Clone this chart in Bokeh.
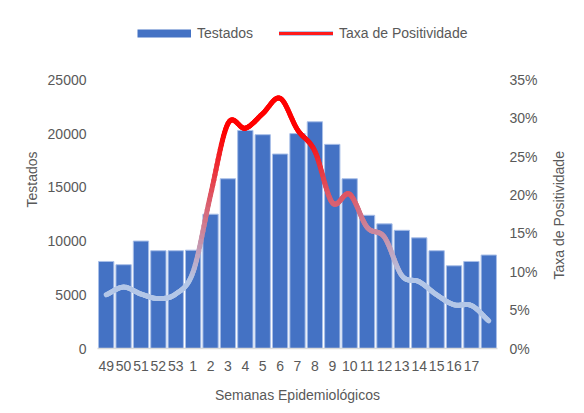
import numpy as np
from bokeh.plotting import figure
from bokeh.layouts import row
from bokeh.models import (Range1d, LinearAxis, FixedTicker, NumeralTickFormatter,
                          Legend, LegendItem, ColumnDataSource, Title)
from bokeh.embed import file_html
from bokeh.resources import INLINE

# ---- data ----
semanas = ["49", "50", "51", "52", "53", "1", "2", "3", "4", "5", "6", "7", "8",
           "9", "10", "11", "12", "13", "14", "15", "16", "17", ""]
testados = [8100, 7800, 10000, 9100, 9100, 9150, 12500, 15800, 20300, 19900, 18100,
            20000, 21100, 19000, 15800, 12400, 11600, 11000, 10300, 9100, 7700, 8100, 8700]
positividade = [0.070, 0.080, 0.071, 0.065, 0.071, 0.100, 0.200, 0.293, 0.287, 0.306,
                0.326, 0.285, 0.257, 0.190, 0.201, 0.158, 0.145, 0.095, 0.087, 0.070,
                0.057, 0.056, 0.036]
left_ticks = [0, 5000, 10000, 15000, 20000, 25000]
right_ticks = [0, 0.05, 0.10, 0.15, 0.20, 0.25, 0.30, 0.35]

FONT = "Liberation Sans"
GREY = "#595959"
BLUE = "#4472C4"

# layout (pixels)
W1, W2, H = 540, 36, 405
B_LEFT, B_RIGHT, B_TOP, B_BOTTOM = 97, 43, 10, 54
frame_h = H - B_TOP - B_BOTTOM
axis_h = 271  # pixel height from 0 to the top tick
k = frame_h / axis_h

n = len(semanas)
xs = list(range(n))

p = figure(width=W1, height=H, output_backend="svg", toolbar_location=None,
           x_range=Range1d(-0.5, n - 0.5), y_range=Range1d(0, left_ticks[-1] * k),
           min_border_left=B_LEFT, min_border_right=B_RIGHT,
           min_border_top=B_TOP, min_border_bottom=B_BOTTOM)
p.outline_line_color = None
p.xgrid.grid_line_color = None
p.ygrid.grid_line_color = None
p.background_fill_color = "white"
p.border_fill_color = "white"

p.extra_y_ranges = {"pct": Range1d(0, right_ticks[-1] * k)}

# bars
bars = p.vbar(x=xs, top=testados, width=0.88, fill_color=BLUE,
              line_color="#a9bfe8", line_width=1)

# smoothed gradient line (Catmull-Rom through the data points)
px = np.array(xs, dtype=float)
py = np.array(positividade, dtype=float)
P = np.column_stack([px, py])
Pext = np.vstack([2 * P[0] - P[1], P, 2 * P[-1] - P[-2]])
curve = []
steps = 16
for i in range(1, len(Pext) - 2):
    p0, p1, p2_, p3 = Pext[i - 1], Pext[i], Pext[i + 1], Pext[i + 2]
    for t in np.linspace(0, 1, steps, endpoint=False):
        t2, t3 = t * t, t * t * t
        pt = 0.5 * ((2 * p1) + (-p0 + p2_) * t + (2 * p0 - 5 * p1 + 4 * p2_ - p3) * t2
                    + (-p0 + 3 * p1 - 3 * p2_ + p3) * t3)
        curve.append(pt)
curve.append(P[-1])
curve = np.array(curve)

lo_v, hi_v = 0.09, 0.285
lo_c = np.array([180, 199, 231])
hi_c = np.array([255, 0, 0])
seg_x, seg_y, seg_c = [], [], []
for i in range(len(curve) - 1):
    a, b = curve[i], curve[i + 1]
    v = 0.5 * (a[1] + b[1])
    t = min(max((v - lo_v) / (hi_v - lo_v), 0), 1)
    c = (lo_c + (hi_c - lo_c) * t).astype(int)
    seg_x.append([a[0], b[0]])
    seg_y.append([a[1], b[1]])
    seg_c.append("#%02x%02x%02x" % tuple(c))
src = ColumnDataSource(dict(xs=seg_x, ys=seg_y, color=seg_c))
ml = p.multi_line(xs="xs", ys="ys", line_color="color", line_width=5, line_cap="round",
                  line_join="round", source=src, y_range_name="pct")

# legend helpers (renderers with a single NaN point: nothing drawn in the plot)
nan = float("nan")
leg_bar = p.line(x=[nan], y=[nan], line_color=BLUE, line_width=8, line_cap="butt")
leg_lav = p.line(x=[nan], y=[nan], line_color="#b4c7e7", line_width=5, line_cap="round",
                 y_range_name="pct")
leg_red = p.line(x=[nan], y=[nan], line_color="#ff1a1a", line_width=3, line_cap="round",
                 y_range_name="pct")

# axes
p.xaxis.ticker = FixedTicker(ticks=xs)
p.xaxis.major_label_overrides = {i: s for i, s in enumerate(semanas)}
p.yaxis.ticker = FixedTicker(ticks=left_ticks)
p.yaxis.axis_label = "Testados"
p.xaxis.axis_label = "Semanas Epidemiológicos"

right = LinearAxis(y_range_name="pct", ticker=FixedTicker(ticks=right_ticks),
                   formatter=NumeralTickFormatter(format="0%"))
p.add_layout(right, "right")

for ax in [p.xaxis[0], p.yaxis[0], right]:
    ax.major_tick_line_color = None
    ax.minor_tick_line_color = None
    ax.major_tick_out = 0
    ax.major_tick_in = 0
    ax.major_label_text_font = FONT
    ax.major_label_text_font_size = "14px"
    ax.major_label_text_color = GREY
    ax.axis_label_text_font = FONT
    ax.axis_label_text_font_size = "14px"
    ax.axis_label_text_color = GREY
    ax.axis_label_text_font_style = "normal"

p.yaxis[0].axis_line_color = None
p.yaxis[0].major_label_standoff = 11
p.yaxis[0].axis_label_standoff = 5
right.axis_line_color = None
right.major_label_standoff = 12
p.xaxis[0].axis_line_color = "#d9d9d9"
p.xaxis[0].axis_line_width = 1.5
p.xaxis[0].major_label_standoff = 12
p.xaxis[0].axis_label_standoff = 13

legend = Legend(items=[LegendItem(label="Testados", renderers=[leg_bar]),
                       LegendItem(label="Taxa de Positividade", renderers=[leg_lav, leg_red])],
                orientation="horizontal", location=(40, frame_h - 34),
                glyph_width=54, glyph_height=16, label_height=16, label_standoff=6,
                spacing=26, padding=0, margin=0,
                label_text_font=FONT, label_text_font_size="14px",
                label_text_color=GREY, border_line_color=None,
                background_fill_alpha=0)
p.add_layout(legend, "center")

# right-hand axis title (reads bottom-to-top), in a narrow companion figure
# whose frame is aligned with the main frame; the title starts near the axis centre
title_start = axis_h // 2 - 66
p2 = figure(width=W2, height=H, output_backend="svg", toolbar_location=None,
            x_range=Range1d(0, 1), y_range=Range1d(0, 1),
            x_axis_location=None, y_axis_location=None,
            min_border_left=26, min_border_right=0,
            min_border_top=B_TOP, min_border_bottom=B_BOTTOM)
p2.outline_line_color = None
p2.background_fill_color = "white"
p2.border_fill_color = "white"
for g in p2.grid:
    g.visible = False
    g.grid_line_color = None
p2.add_layout(Title(text="Taxa de Positividade", align="left", offset=title_start,
                    standoff=0, text_font=FONT, text_font_size="14px", text_color=GREY,
                    text_font_style="normal"), "left")

open("out.html", "w").write(file_html(row(p, p2), INLINE))
